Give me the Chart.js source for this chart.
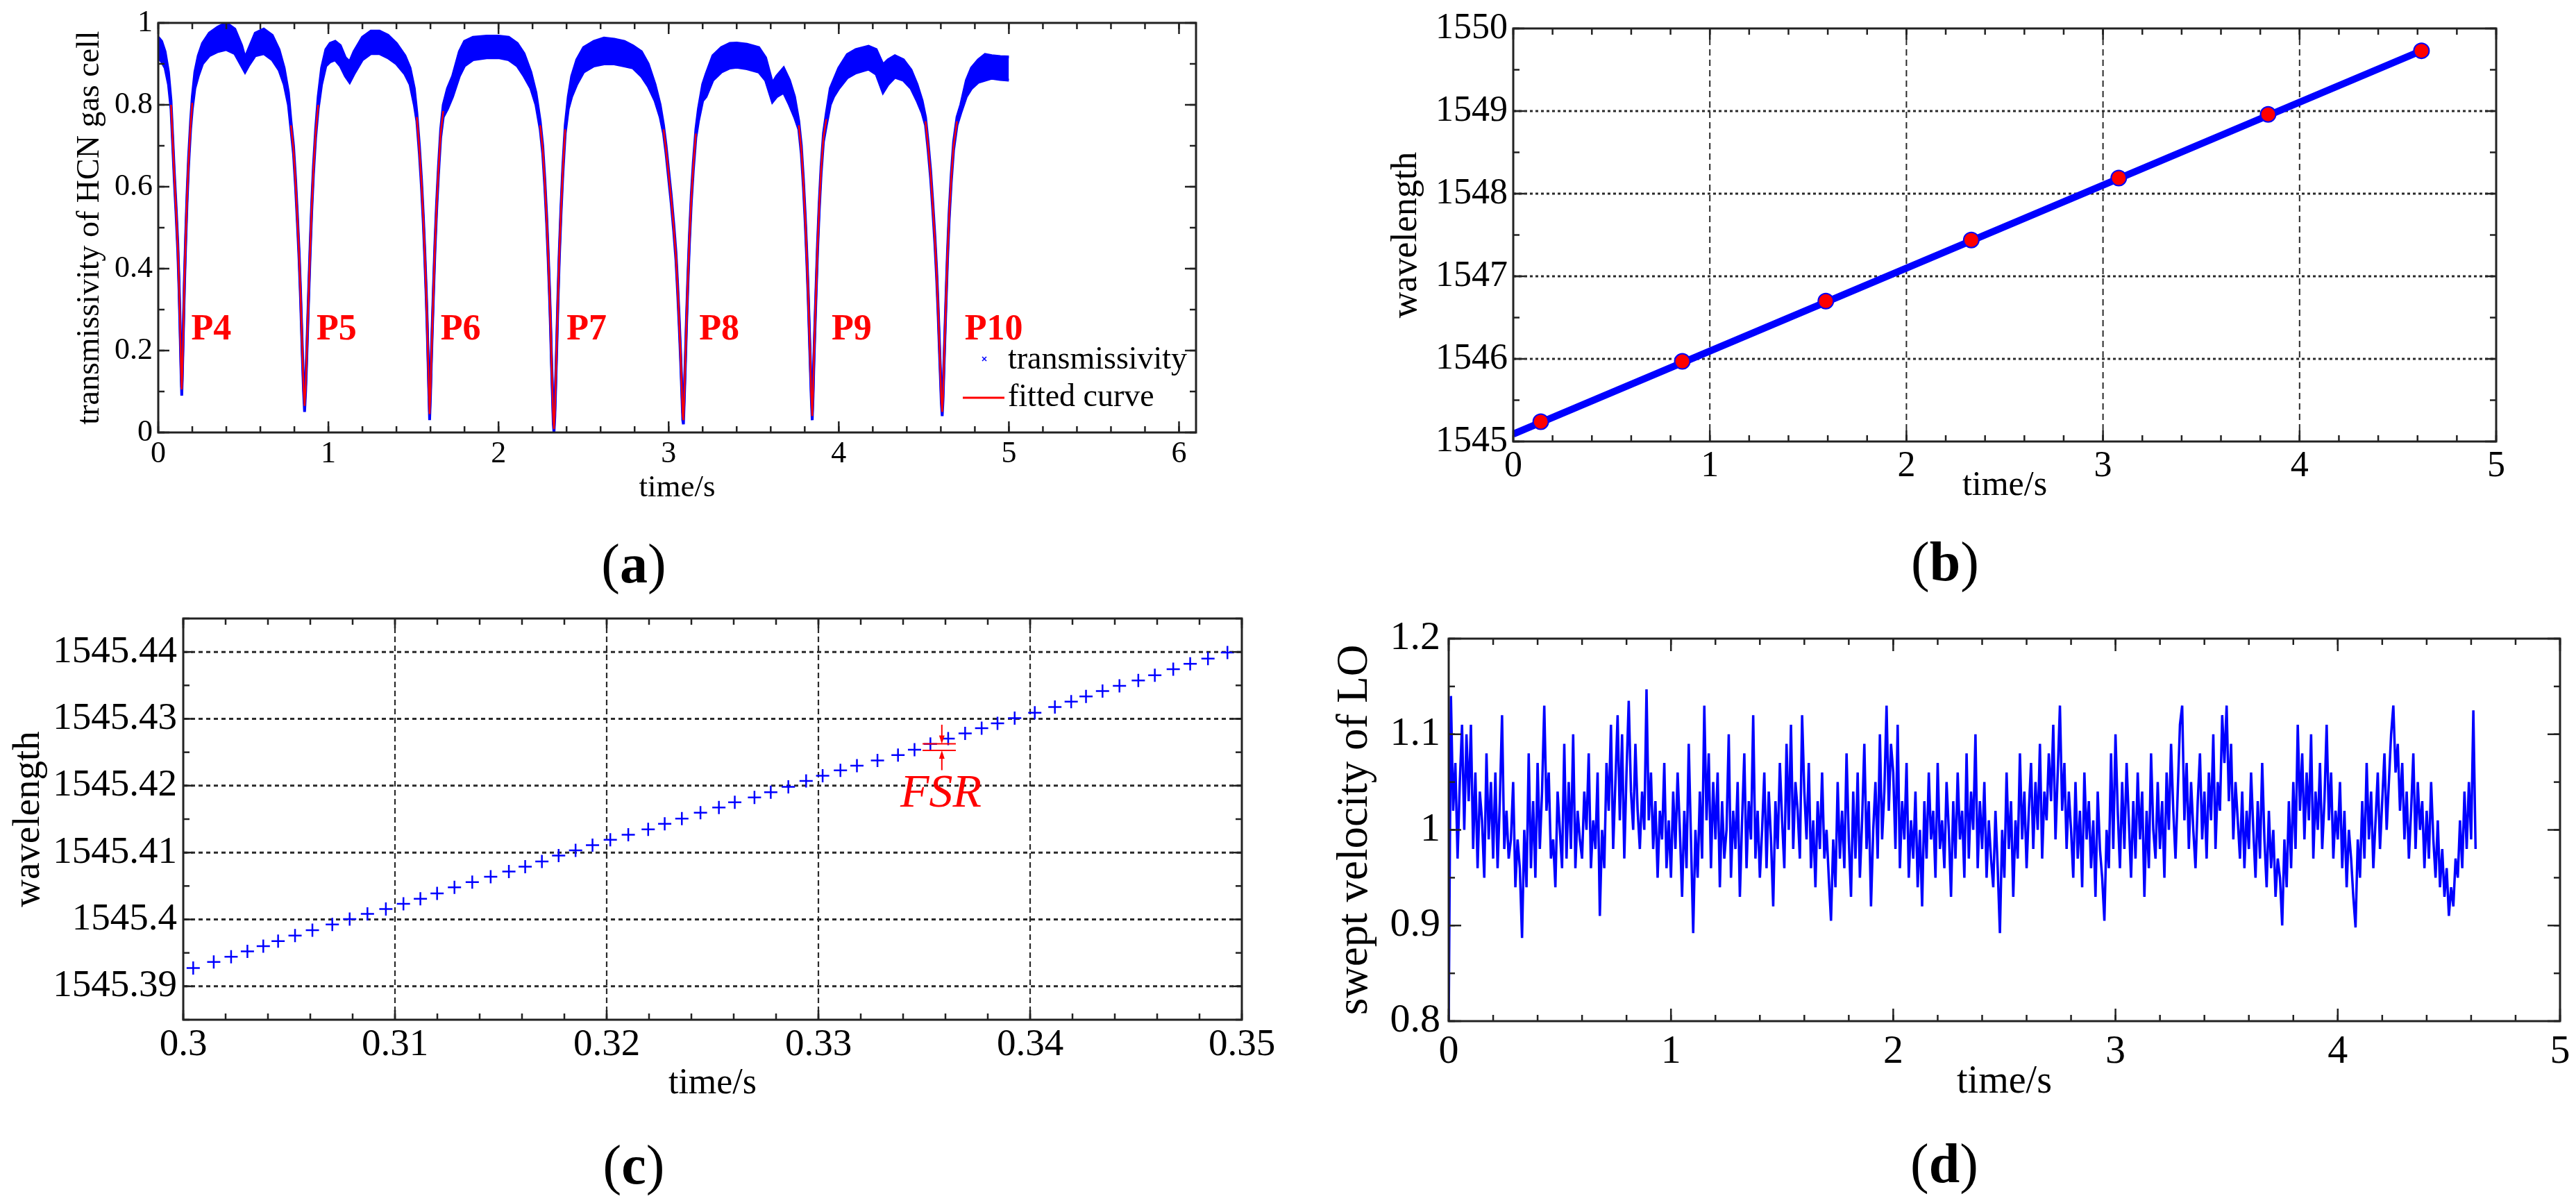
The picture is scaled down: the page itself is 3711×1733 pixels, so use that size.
<!DOCTYPE html>
<html lang="en">
<head>
<meta charset="UTF-8">
<title>HCN gas cell wavelength calibration</title>
<script src="https://cdn.jsdelivr.net/npm/chart.js"></script>
<style>
  body { margin: 0; background: #fff; width: 3711px; height: 1733px; position: relative; overflow: hidden; }
  canvas { position: absolute; }
  .plabel { position: absolute; font-family: 'Liberation Serif', 'Times New Roman', serif; font-size: 80px; line-height: 1; color: #000; transform: translate(-50%, -50%); white-space: nowrap; }
</style>
</head>
<body>
<canvas id="chartA" width="1860" height="870" style="left:0px;top:0px"></canvas>
<canvas id="chartB" width="1851" height="870" style="left:1860px;top:0px"></canvas>
<canvas id="chartC" width="1860" height="863" style="left:0px;top:870px"></canvas>
<canvas id="chartD" width="1851" height="863" style="left:1860px;top:870px"></canvas>
<div class="plabel" style="left:913px;top:812px">(<b>a</b>)</div>
<div class="plabel" style="left:2802px;top:809px">(<b>b</b>)</div>
<div class="plabel" style="left:913px;top:1678px">(<b>c</b>)</div>
<div class="plabel" style="left:2801px;top:1676px">(<b>d</b>)</div>

<script>
const SERIF = "'Liberation Serif', 'Times New Roman', serif";
const BLUE = '#0000ff';
const RED = '#ff0000';

// ---- (a) transmissivity of the HCN gas cell: upper / lower edge of the noisy band
const aTime = [0, 0.02, 0.04, 0.06, 0.075, 0.085, 0.095, 0.105, 0.115, 0.122, 0.127, 0.131, 0.135, 0.138, 0.141, 0.145, 0.149, 0.154, 0.161, 0.169, 0.178, 0.19, 0.2, 0.215, 0.235, 0.26,
  0.3, 0.35, 0.4, 0.45, 0.49, 0.51, 0.53, 0.57, 0.62, 0.67, 0.71, 0.74, 0.765, 0.78, 0.795, 0.807, 0.818, 0.828, 0.836, 0.842, 0.848, 0.854, 0.86, 0.866, 0.872, 0.878, 0.885, 0.893, 0.902, 0.912, 0.925, 0.94, 0.96, 0.985,
  1.01, 1.04, 1.07, 1.1, 1.125, 1.15, 1.2, 1.25, 1.3, 1.35, 1.4, 1.45, 1.48, 1.505, 1.52, 1.535, 1.547, 1.558, 1.567, 1.575, 1.581, 1.586, 1.591, 1.595, 1.6, 1.605, 1.611, 1.618, 1.626, 1.636, 1.647, 1.66, 1.675,
  1.7, 1.73, 1.77, 1.8, 1.85, 1.93, 2.0, 2.06, 2.11, 2.15, 2.19, 2.22, 2.245, 2.26, 2.272, 2.283, 2.292, 2.3, 2.306, 2.311, 2.317, 2.322, 2.326, 2.331, 2.336, 2.342, 2.349, 2.357, 2.367, 2.378, 2.392,
  2.41, 2.43, 2.46, 2.5, 2.56, 2.62, 2.68, 2.74, 2.79, 2.84, 2.88, 2.92, 2.95, 2.97, 2.985, 3.0, 3.015, 3.03, 3.043, 3.053, 3.062, 3.07, 3.077, 3.083, 3.087, 3.092, 3.098, 3.105, 3.113, 3.122, 3.133, 3.145, 3.16, 3.175,
  3.2, 3.22, 3.26, 3.31, 3.36, 3.4, 3.46, 3.53, 3.57, 3.61, 3.635, 3.676, 3.71, 3.74, 3.765, 3.78, 3.792, 3.803, 3.812, 3.82, 3.826, 3.832, 3.838, 3.844, 3.849, 3.854, 3.86, 3.867, 3.875, 3.885, 3.896, 3.91, 3.927,
  3.95, 3.97, 4.0, 4.05, 4.1, 4.175, 4.22, 4.26, 4.29, 4.33, 4.38, 4.425, 4.46, 4.49, 4.51, 4.525, 4.54, 4.553, 4.565, 4.575, 4.583, 4.59, 4.597, 4.603, 4.608, 4.613, 4.618, 4.624, 4.631, 4.639, 4.649, 4.661, 4.675, 4.695, 4.717, 4.75, 4.78, 4.82, 4.86, 4.9, 4.95, 5.0];
const aHigh = [0.965, 0.955, 0.93, 0.88, 0.81, 0.72, 0.63, 0.55, 0.46, 0.37, 0.29, 0.22, 0.15, 0.11, 0.15, 0.22, 0.29, 0.38, 0.48, 0.58, 0.67, 0.76, 0.82, 0.88, 0.92, 0.95,
  0.975, 0.99, 1.0, 0.985, 0.945, 0.915, 0.935, 0.975, 0.985, 0.97, 0.935, 0.89, 0.83, 0.76, 0.70, 0.62, 0.53, 0.44, 0.35, 0.27, 0.19, 0.12, 0.07, 0.12, 0.19, 0.27, 0.36, 0.46, 0.56, 0.65, 0.74, 0.82, 0.89, 0.935,
  0.95, 0.955, 0.945, 0.915, 0.905, 0.93, 0.965, 0.98, 0.98, 0.97, 0.95, 0.92, 0.89, 0.84, 0.78, 0.70, 0.62, 0.53, 0.44, 0.35, 0.27, 0.19, 0.11, 0.05, 0.11, 0.19, 0.27, 0.36, 0.46, 0.56, 0.65, 0.74, 0.80,
  0.84, 0.87, 0.93, 0.955, 0.965, 0.968, 0.968, 0.965, 0.95, 0.925, 0.88, 0.83, 0.76, 0.70, 0.62, 0.53, 0.44, 0.35, 0.27, 0.19, 0.11, 0.04, 0.015, 0.06, 0.13, 0.22, 0.33, 0.44, 0.55, 0.65, 0.75,
  0.82, 0.87, 0.91, 0.94, 0.955, 0.963, 0.96, 0.955, 0.944, 0.93, 0.90, 0.85, 0.80, 0.75, 0.70, 0.64, 0.58, 0.51, 0.44, 0.36, 0.28, 0.20, 0.12, 0.05, 0.04, 0.10, 0.18, 0.28, 0.38, 0.48, 0.58, 0.66, 0.74, 0.79,
  0.85, 0.875, 0.92, 0.94, 0.95, 0.951, 0.948, 0.94, 0.915, 0.853, 0.87, 0.89, 0.86, 0.82, 0.76, 0.70, 0.62, 0.53, 0.44, 0.35, 0.27, 0.19, 0.11, 0.05, 0.11, 0.19, 0.27, 0.36, 0.46, 0.56, 0.65, 0.73, 0.78,
  0.84, 0.86, 0.89, 0.923, 0.935, 0.943, 0.935, 0.898, 0.91, 0.92, 0.91, 0.885, 0.85, 0.81, 0.77, 0.71, 0.64, 0.56, 0.48, 0.40, 0.32, 0.24, 0.16, 0.09, 0.06, 0.10, 0.17, 0.25, 0.34, 0.44, 0.54, 0.63, 0.71, 0.77, 0.80, 0.86, 0.89, 0.91, 0.923, 0.92, 0.918, 0.917];
const aLow = [0.915, 0.905, 0.89, 0.85, 0.79, 0.70, 0.61, 0.53, 0.44, 0.35, 0.27, 0.20, 0.13, 0.09, 0.13, 0.20, 0.27, 0.36, 0.46, 0.56, 0.65, 0.74, 0.79, 0.84, 0.87, 0.90,
  0.92, 0.93, 0.935, 0.925, 0.895, 0.88, 0.895, 0.92, 0.925, 0.91, 0.885, 0.85, 0.80, 0.74, 0.68, 0.60, 0.51, 0.42, 0.33, 0.25, 0.17, 0.10, 0.05, 0.10, 0.17, 0.25, 0.34, 0.44, 0.54, 0.63, 0.72, 0.79, 0.85, 0.895,
  0.905, 0.91, 0.895, 0.87, 0.855, 0.875, 0.91, 0.925, 0.925, 0.915, 0.90, 0.875, 0.85, 0.80, 0.76, 0.68, 0.60, 0.51, 0.42, 0.33, 0.25, 0.17, 0.09, 0.03, 0.09, 0.17, 0.25, 0.34, 0.44, 0.54, 0.63, 0.72, 0.77,
  0.79, 0.82, 0.87, 0.895, 0.91, 0.915, 0.915, 0.91, 0.895, 0.87, 0.84, 0.80, 0.74, 0.68, 0.60, 0.51, 0.42, 0.33, 0.25, 0.17, 0.09, 0.02, 0, 0.04, 0.11, 0.20, 0.31, 0.42, 0.53, 0.63, 0.73,
  0.79, 0.82, 0.85, 0.88, 0.895, 0.90, 0.90, 0.895, 0.89, 0.87, 0.845, 0.81, 0.77, 0.73, 0.68, 0.62, 0.56, 0.49, 0.42, 0.34, 0.26, 0.18, 0.10, 0.03, 0.02, 0.08, 0.16, 0.26, 0.36, 0.46, 0.56, 0.64, 0.72, 0.76,
  0.81, 0.82, 0.86, 0.88, 0.89, 0.892, 0.888, 0.88, 0.86, 0.807, 0.82, 0.83, 0.80, 0.77, 0.74, 0.68, 0.60, 0.51, 0.42, 0.33, 0.25, 0.17, 0.09, 0.03, 0.09, 0.17, 0.25, 0.34, 0.44, 0.54, 0.63, 0.71, 0.75,
  0.80, 0.82, 0.84, 0.866, 0.878, 0.887, 0.875, 0.83, 0.85, 0.867, 0.86, 0.84, 0.81, 0.78, 0.75, 0.69, 0.62, 0.54, 0.46, 0.38, 0.30, 0.22, 0.14, 0.07, 0.04, 0.08, 0.15, 0.23, 0.32, 0.42, 0.52, 0.61, 0.69, 0.75, 0.78, 0.82, 0.84, 0.855, 0.86, 0.865, 0.862, 0.86];
// fitted curve around each absorption dip (null = break between dips)
const aFitTime = [0.075, 0.085, 0.095, 0.105, 0.115, 0.122, 0.127, 0.131, 0.135, 0.138, 0.141, 0.145, 0.149, 0.154, 0.161, 0.169, 0.178, 0.19, 0.2, 0.5,
  0.78, 0.795, 0.807, 0.818, 0.828, 0.836, 0.842, 0.848, 0.854, 0.86, 0.866, 0.872, 0.878, 0.885, 0.893, 0.902, 0.912, 0.925, 0.94, 1.2,
  1.52, 1.535, 1.547, 1.558, 1.567, 1.575, 1.581, 1.586, 1.591, 1.595, 1.6, 1.605, 1.611, 1.618, 1.626, 1.636, 1.647, 1.66, 1.675, 2.0,
  2.245, 2.26, 2.272, 2.283, 2.292, 2.3, 2.306, 2.311, 2.317, 2.322, 2.326, 2.331, 2.336, 2.342, 2.349, 2.357, 2.367, 2.378, 2.392, 2.7,
  2.97, 2.985, 3.0, 3.015, 3.03, 3.043, 3.053, 3.062, 3.07, 3.077, 3.083, 3.087, 3.092, 3.098, 3.105, 3.113, 3.122, 3.133, 3.145, 3.16, 3.5,
  3.765, 3.78, 3.792, 3.803, 3.812, 3.82, 3.826, 3.832, 3.838, 3.844, 3.849, 3.854, 3.86, 3.867, 3.875, 3.885, 3.896, 3.91, 3.927, 4.3,
  4.51, 4.525, 4.54, 4.553, 4.565, 4.575, 4.583, 4.59, 4.597, 4.603, 4.608, 4.613, 4.618, 4.624, 4.631, 4.639, 4.649, 4.661, 4.675, 4.695];
const aFitVal = [0.80, 0.71, 0.62, 0.54, 0.45, 0.36, 0.28, 0.21, 0.14, 0.105, 0.14, 0.21, 0.28, 0.37, 0.47, 0.57, 0.66, 0.75, 0.805, null,
  0.75, 0.69, 0.61, 0.52, 0.43, 0.34, 0.26, 0.18, 0.11, 0.065, 0.11, 0.18, 0.26, 0.35, 0.45, 0.55, 0.64, 0.73, 0.80, null,
  0.77, 0.69, 0.61, 0.52, 0.43, 0.34, 0.26, 0.18, 0.10, 0.045, 0.10, 0.18, 0.26, 0.35, 0.45, 0.55, 0.64, 0.73, 0.785, null,
  0.75, 0.69, 0.61, 0.52, 0.43, 0.34, 0.26, 0.18, 0.10, 0.03, 0.008, 0.05, 0.12, 0.21, 0.32, 0.43, 0.54, 0.64, 0.74, null,
  0.74, 0.69, 0.63, 0.57, 0.50, 0.43, 0.35, 0.27, 0.19, 0.11, 0.04, 0.03, 0.09, 0.17, 0.27, 0.37, 0.47, 0.57, 0.65, 0.73, null,
  0.75, 0.69, 0.61, 0.52, 0.43, 0.34, 0.26, 0.18, 0.10, 0.04, 0.10, 0.18, 0.26, 0.35, 0.45, 0.55, 0.64, 0.72, 0.765, null,
  0.76, 0.70, 0.63, 0.55, 0.47, 0.39, 0.31, 0.23, 0.15, 0.08, 0.05, 0.09, 0.16, 0.24, 0.33, 0.43, 0.53, 0.62, 0.70, 0.76];
const aPeakNames = ['P4', 'P5', 'P6', 'P7', 'P8', 'P9', 'P10'];
const aPeakTime = [0.194, 0.93, 1.66, 2.40, 3.18, 3.958, 4.74];
const aPeakLevel = 0.25;
const aXTicks = [0, 1, 2, 3, 4, 5, 6];
const aYTicks = [0, 0.2, 0.4, 0.6, 0.8, 1];

// ---- (b) wavelength of the absorption peaks and the fitted line
const bPeakTime = [0.14, 0.86, 1.59, 2.33, 3.08, 3.84, 4.62];
const bPeakWave = [1545.24, 1545.97, 1546.70, 1547.44, 1548.19, 1548.96, 1549.73];
const bLineTime = [0, 4.62];
const bLineWave = [1545.09, 1549.73];
const bXTicks = [0, 1, 2, 3, 4, 5];
const bYTicks = [1545, 1546, 1547, 1548, 1549, 1550];

// ---- (c) zoom of the wavelength sweep (one sample per FSR)
const cTime = [0.30047, 0.30144, 0.30226, 0.30303, 0.30378, 0.30448, 0.30528, 0.30610, 0.30704, 0.30786,
  0.30870, 0.30957, 0.31040, 0.31120, 0.31199, 0.31281, 0.31365, 0.31452, 0.31538, 0.31615,
  0.31694, 0.31773, 0.31853, 0.31933, 0.32017, 0.32102, 0.32196, 0.32274, 0.32355, 0.32443,
  0.32530, 0.32605, 0.32698, 0.32775, 0.32858, 0.32942, 0.33020, 0.33104, 0.33182, 0.33279,
  0.33376, 0.33454, 0.33529, 0.33613, 0.33693, 0.33771, 0.33846, 0.33927, 0.34022, 0.34117,
  0.34194, 0.34264, 0.34342, 0.34422, 0.34511, 0.34589, 0.34676, 0.34756, 0.34840, 0.34932];
const cWave = [1545.39273, 1545.39364, 1545.39443, 1545.39522, 1545.39601, 1545.39676, 1545.39759, 1545.39839, 1545.39926, 1545.40005,
  1545.40084, 1545.40155, 1545.40234, 1545.40309, 1545.40388, 1545.40479, 1545.40558, 1545.40638, 1545.40717, 1545.40788,
  1545.40867, 1545.40954, 1545.41033, 1545.41112, 1545.41191, 1545.41267, 1545.41346, 1545.41429, 1545.41508, 1545.41595,
  1545.41674, 1545.41753, 1545.41824, 1545.41903, 1545.41983, 1545.42070, 1545.42149, 1545.42228, 1545.42299, 1545.42378,
  1545.42458, 1545.42537, 1545.42623, 1545.42703, 1545.42782, 1545.42861, 1545.42932, 1545.43011, 1545.43090, 1545.43177,
  1545.43256, 1545.43335, 1545.43415, 1545.43494, 1545.43573, 1545.43652, 1545.43743, 1545.43822, 1545.43901, 1545.43992];
const cXTicks = [0.3, 0.31, 0.32, 0.33, 0.34, 0.35];
const cYTicks = [1545.39, 1545.4, 1545.41, 1545.42, 1545.43, 1545.44];
// FSR marker, in data units
const fsrFrom = 0.33492, fsrTo = 0.33649, fsrArrowAt = 0.33583;
const fsrUpper = 1545.42627, fsrLower = 1545.42528;
const fsrArrowTop = 1545.42912, fsrArrowBottom = 1545.42232;
const fsrTextAt = [0.33579, 1545.41876];

// ---- (d) swept velocity of the LO, one value every dSampleStep seconds
const dSampleStep = 0.01;
const dVelocity = [
  0.80, 1.14, 1.02, 1.07, 0.97, 1.05, 1.11, 1.00, 1.10, 1.03,
  1.11, 0.98, 1.06, 0.96, 1.04, 1.01, 0.95, 1.08, 0.99, 1.05,
  0.97, 1.06, 0.96, 1.03, 1.12, 0.98, 1.02, 0.97, 0.99, 1.05,
  0.94, 0.99, 0.96, 0.887, 1.00, 0.94, 1.08, 0.96, 1.03, 0.95,
  1.07, 0.98, 1.04, 1.13, 1.02, 1.06, 0.97, 0.99, 0.94, 1.04,
  1.00, 0.96, 1.09, 0.97, 1.05, 0.98, 1.10, 0.96, 1.02, 0.99,
  0.97, 1.04, 1.00, 1.08, 0.96, 1.01, 0.98, 1.06, 0.91, 1.00,
  0.96, 1.07, 1.02, 1.11, 0.98, 1.05, 1.12, 1.01, 1.10, 0.97,
  1.06, 1.135, 1.04, 1.00, 1.09, 1.02, 0.98, 1.04, 1.00, 1.147,
  1.01, 1.06, 0.98, 1.03, 0.95, 1.02, 0.99, 1.07, 0.96, 1.01,
  0.95, 1.04, 0.98, 1.06, 1.00, 0.93, 1.02, 0.96, 1.09, 0.99,
  0.892, 1.00, 0.95, 1.04, 0.97, 1.13, 1.01, 1.08, 0.96, 1.05,
  0.99, 1.06, 0.94, 1.03, 0.97, 1.00, 1.10, 0.95, 1.02, 0.98,
  1.05, 0.93, 1.01, 1.08, 0.96, 1.03, 0.99, 1.12, 0.97, 1.02,
  0.95, 1.00, 1.06, 0.96, 1.04, 0.99, 0.92, 1.03, 0.98, 1.07,
  1.01, 0.96, 1.09, 1.00, 1.11, 0.98, 1.05, 1.02, 0.97, 1.12,
  1.04, 0.99, 1.07, 0.96, 1.01, 0.94, 1.03, 0.98, 1.06, 0.97,
  1.00, 0.95, 0.905, 0.99, 0.94, 1.05, 0.97, 1.02, 0.96, 1.08,
  0.99, 0.93, 1.04, 0.97, 1.06, 0.95, 1.01, 1.09, 0.98, 1.03,
  0.92, 1.00, 1.05, 0.97, 1.10, 0.99, 1.04, 1.13, 1.02, 1.09,
  1.06, 0.98, 1.11, 0.96, 1.03, 0.99, 1.07, 0.95, 1.01, 0.97,
  1.04, 0.94, 1.00, 0.92, 1.03, 0.97, 1.06, 0.99, 1.02, 0.95,
  1.07, 0.98, 1.01, 0.96, 1.05, 1.00, 0.93, 1.03, 0.97, 1.06,
  0.99, 1.02, 0.95, 1.08, 0.97, 1.04, 1.00, 1.10, 0.96, 1.03,
  0.98, 1.05, 0.95, 1.01, 0.97, 0.94, 1.02, 0.96, 0.892, 1.00,
  0.95, 1.06, 0.98, 1.03, 0.93, 1.01, 0.97, 1.08, 0.99, 1.04,
  0.96, 1.02, 1.07, 0.98, 1.05, 1.00, 1.09, 0.97, 1.04, 1.01,
  1.08, 1.03, 1.11, 0.99, 1.06, 1.13, 1.02, 1.07, 0.98, 1.04,
  1.00, 0.95, 1.05, 0.97, 1.02, 0.94, 1.06, 0.99, 1.03, 0.96,
  1.01, 0.93, 1.04, 0.98, 0.95, 0.905, 1.00, 0.96, 1.08, 0.98,
  1.10, 1.02, 0.96, 1.05, 0.98, 1.07, 1.01, 0.95, 1.03, 0.97,
  1.06, 0.99, 1.04, 0.93, 1.02, 0.96, 1.08, 1.00, 0.97, 1.05,
  0.98, 1.03, 0.95, 1.06, 1.00, 1.09, 1.02, 0.97, 1.04, 1.11,
  1.13, 1.01, 1.07, 0.98, 1.05, 1.00, 0.96, 1.03, 1.08, 0.99,
  1.04, 0.97, 1.06, 1.01, 1.10, 0.98, 1.05, 1.02, 1.12, 1.07,
  1.13, 1.03, 1.09, 0.99, 1.05, 1.01, 0.97, 1.04, 0.96, 1.02,
  0.98, 1.06, 1.00, 0.95, 1.03, 0.97, 1.07, 0.99, 0.94, 1.02,
  0.96, 1.00, 0.93, 0.97, 0.95, 0.90, 0.99, 0.94, 1.03, 0.96,
  1.05, 0.98, 1.11, 1.02, 1.08, 0.99, 1.06, 1.01, 1.10, 0.97,
  1.04, 1.00, 1.07, 0.98, 1.03, 1.11, 1.01, 1.06, 0.97, 1.02,
  0.99, 1.05, 0.96, 1.02, 0.94, 1.00, 0.97, 0.93, 0.898, 0.99,
  0.95, 1.03, 0.97, 1.07, 0.99, 1.04, 0.96, 1.01, 1.06, 0.98,
  1.03, 1.08, 1.00, 1.05, 1.10, 1.13, 1.06, 1.09, 1.02, 1.07,
  0.99, 1.04, 0.97, 1.02, 1.08, 0.98, 1.05, 1.00, 1.03, 0.96,
  1.02, 0.97, 1.05, 0.99, 0.95, 1.01, 0.94, 0.98, 0.93, 0.96,
  0.91, 0.94, 0.92, 0.97, 0.95, 1.01, 0.96, 1.04, 0.98, 1.05,
  0.99, 1.125, 0.98];
const dXTicks = [0, 1, 2, 3, 4, 5];
const dYTicks = [0.8, 0.9, 1, 1.1, 1.2];

// frame, inward ticks on all four sides and optional dashed grid
function makeDeco(st) {
  return {
    id: 'deco',
    beforeDatasetsDraw(chart) {
      if (!st.grid) return;
      const { ctx, chartArea: a, scales: { x, y } } = chart;
      ctx.save();
      ctx.strokeStyle = '#2a2a2a';
      ctx.lineWidth = st.grid.vWidth;
      ctx.setLineDash(st.grid.vDash);
      x.ticks.forEach(t => {
        const px = x.getPixelForValue(t.value);
        if (px < a.left + 4 || px > a.right - 4) return;
        ctx.beginPath(); ctx.moveTo(px, a.top); ctx.lineTo(px, a.bottom); ctx.stroke();
      });
      ctx.lineWidth = st.grid.hWidth;
      ctx.setLineDash(st.grid.hDash);
      y.ticks.forEach(t => {
        const py = y.getPixelForValue(t.value);
        if (py < a.top + 4 || py > a.bottom - 4) return;
        ctx.beginPath(); ctx.moveTo(a.left, py); ctx.lineTo(a.right, py); ctx.stroke();
      });
      ctx.restore();
    },
    afterDatasetsDraw(chart) {
      const { ctx, chartArea: a, scales: { x, y } } = chart;
      const steps = (s, step) => {
        const out = [];
        for (let k = Math.ceil(s.min / step - 1e-6); k * step <= s.max + 1e-9; k++) out.push(k * step);
        return out;
      };
      const seg = (x0, y0, x1, y1) => { ctx.beginPath(); ctx.moveTo(x0, y0); ctx.lineTo(x1, y1); ctx.stroke(); };
      const xt = (v, len) => { const px = x.getPixelForValue(v); seg(px, a.bottom, px, a.bottom - len); seg(px, a.top, px, a.top + len); };
      const yt = (v, len) => { const py = y.getPixelForValue(v); seg(a.left, py, a.left + len, py); seg(a.right, py, a.right - len, py); };
      ctx.save();
      ctx.strokeStyle = '#222';
      ctx.lineWidth = 2.5;
      steps(x, st.xMinor).forEach(v => xt(v, st.minorLen));
      steps(y, st.yMinor).forEach(v => yt(v, st.minorLen));
      x.ticks.forEach(t => xt(t.value, st.majorLen));
      y.ticks.forEach(t => yt(t.value, st.majorLen));
      ctx.lineWidth = 3;
      ctx.strokeRect(a.left, a.top, a.right - a.left, a.bottom - a.top);
      ctx.restore();
    }
  };
}

function xAxis(min, max, ticks, o) {
  return {
    type: 'linear', min: min, max: max,
    grid: { display: false, drawTicks: false },
    border: { display: false },
    afterBuildTicks: s => { s.ticks = ticks.map(v => ({ value: v })); },
    afterFit: s => { s.height = o.height; s.paddingLeft = 0; s.paddingRight = 0; },
    ticks: { autoSkip: false, maxRotation: 0, minRotation: 0, padding: o.pad, color: '#000',
      font: { family: SERIF, size: o.size }, callback: v => String(v) },
    title: { display: true, text: 'time/s', color: '#000', font: { family: SERIF, size: o.titleSize },
      padding: { top: 0, bottom: o.titlePad } }
  };
}

function yAxis(min, max, ticks, o) {
  return {
    min: min, max: max,
    grid: { display: false, drawTicks: false },
    border: { display: false },
    afterBuildTicks: s => { s.ticks = ticks.map(v => ({ value: v })); },
    afterFit: s => { s.width = o.width; s.paddingTop = 0; s.paddingBottom = 0; },
    ticks: { autoSkip: false, padding: o.pad, color: '#000', font: { family: SERIF, size: o.size },
      callback: v => String(v) },
    title: { display: true, text: o.title, color: '#000', font: { family: SERIF, size: o.titleSize },
      padding: { top: o.titlePad, bottom: 0 } }
  };
}

function baseOptions(pad, scales) {
  return {
    responsive: false, animation: false, devicePixelRatio: 1,
    layout: { padding: pad },
    plugins: { legend: { display: false }, tooltip: { enabled: false } },
    events: [],
    scales: scales
  };
}

// ---------- (a)
const aNotes = {
  id: 'aNotes',
  afterDatasetsDraw(chart) {
    const { ctx, chartArea: a, scales: { x, y } } = chart;
    ctx.save();
    ctx.fillStyle = RED;
    ctx.font = 'bold 52px ' + SERIF;
    ctx.textBaseline = 'middle';
    ctx.textAlign = 'left';
    aPeakNames.forEach((n, i) => ctx.fillText(n, x.getPixelForValue(aPeakTime[i]), y.getPixelForValue(aPeakLevel)));
    // legend
    ctx.strokeStyle = BLUE; ctx.lineWidth = 1.5;
    const mx = a.right - 305, my = a.bottom - 106;
    ctx.beginPath(); ctx.moveTo(mx - 3, my - 3); ctx.lineTo(mx + 3, my + 3); ctx.moveTo(mx - 3, my + 3); ctx.lineTo(mx + 3, my - 3); ctx.stroke();
    ctx.strokeStyle = RED; ctx.lineWidth = 3;
    ctx.beginPath(); ctx.moveTo(a.right - 336, a.bottom - 50); ctx.lineTo(a.right - 276, a.bottom - 50); ctx.stroke();
    ctx.fillStyle = '#000';
    ctx.font = '46px ' + SERIF;
    ctx.fillText('transmissivity', a.right - 271, a.bottom - 104);
    ctx.fillText('fitted curve', a.right - 271, a.bottom - 50);
    ctx.restore();
  }
};

new Chart(document.getElementById('chartA'), {
  type: 'line',
  data: {
    datasets: [
      { data: aTime.map((t, i) => ({ x: t, y: aHigh[i] })), order: 2, borderColor: BLUE, borderWidth: 4, pointRadius: 0, fill: false, tension: 0 },
      { data: aTime.map((t, i) => ({ x: t, y: aLow[i] })), order: 2, borderColor: BLUE, borderWidth: 4, pointRadius: 0, fill: '-1', backgroundColor: BLUE, tension: 0 },
      { data: aFitTime.map((t, i) => ({ x: t, y: aFitVal[i] })), order: 1, borderColor: RED, borderWidth: 2.5, pointRadius: 0, fill: false, tension: 0, spanGaps: false }
    ]
  },
  options: baseOptions({ left: 0, top: 33, right: 137, bottom: 0 }, {
    x: xAxis(0, 6.1, aXTicks, { height: 247, pad: 5, size: 44, titleSize: 45, titlePad: 140 }),
    y: yAxis(0, 1, aYTicks, { width: 228, pad: 8, size: 44, title: 'transmissivity of HCN gas cell', titleSize: 46, titlePad: 102 })
  }),
  plugins: [makeDeco({ xMinor: 0.2, yMinor: 0.1, majorLen: 16, minorLen: 9 }), aNotes]
});

// ---------- (b)
new Chart(document.getElementById('chartB'), {
  type: 'line',
  data: {
    datasets: [
      { data: bLineTime.map((t, i) => ({ x: t, y: bLineWave[i] })), order: 2, borderColor: BLUE, borderWidth: 10, pointRadius: 0, fill: false },
      { data: bPeakTime.map((t, i) => ({ x: t, y: bPeakWave[i] })), order: 1, showLine: false, pointRadius: 11,
        pointBackgroundColor: RED, pointBorderColor: BLUE, pointBorderWidth: 2 }
    ]
  },
  options: baseOptions({ left: 0, top: 41, right: 115, bottom: 0 }, {
    x: xAxis(0, 5, bXTicks, { height: 234, pad: 5, size: 52, titleSize: 50, titlePad: 140 }),
    y: yAxis(1545, 1550, bYTicks, { width: 320, pad: 8, size: 52, title: 'wavelength', titleSize: 52, titlePad: 135 })
  }),
  plugins: [makeDeco({ xMinor: 0.2, yMinor: 0.5, majorLen: 16, minorLen: 9,
    grid: { vWidth: 2, vDash: [9, 6], hWidth: 3, hDash: [4, 4] } })]
});

// ---------- (c)
const cNotes = {
  id: 'cNotes',
  afterDatasetsDraw(chart) {
    const { ctx, scales: { x, y } } = chart;
    const x0 = x.getPixelForValue(fsrFrom), x1 = x.getPixelForValue(fsrTo), xa = x.getPixelForValue(fsrArrowAt);
    const yu = y.getPixelForValue(fsrUpper), yl = y.getPixelForValue(fsrLower);
    const yt = y.getPixelForValue(fsrArrowTop), yb = y.getPixelForValue(fsrArrowBottom);
    ctx.save();
    ctx.strokeStyle = RED; ctx.fillStyle = RED; ctx.lineWidth = 2;
    ctx.beginPath();
    ctx.moveTo(x0, yu); ctx.lineTo(x1, yu);
    ctx.moveTo(x0, yl); ctx.lineTo(x1, yl);
    ctx.moveTo(xa, yt); ctx.lineTo(xa, yu - 10);
    ctx.moveTo(xa, yb); ctx.lineTo(xa, yl + 10);
    ctx.stroke();
    ctx.beginPath(); ctx.moveTo(xa, yu); ctx.lineTo(xa - 4, yu - 12); ctx.lineTo(xa + 4, yu - 12); ctx.closePath(); ctx.fill();
    ctx.beginPath(); ctx.moveTo(xa, yl); ctx.lineTo(xa - 4, yl + 12); ctx.lineTo(xa + 4, yl + 12); ctx.closePath(); ctx.fill();
    ctx.font = 'italic 68px ' + SERIF;
    ctx.textAlign = 'center'; ctx.textBaseline = 'middle';
    ctx.fillText('FSR', x.getPixelForValue(fsrTextAt[0]), y.getPixelForValue(fsrTextAt[1]));
    ctx.restore();
  }
};

new Chart(document.getElementById('chartC'), {
  type: 'line',
  data: {
    datasets: [
      { data: cTime.map((t, i) => ({ x: t, y: cWave[i] })), showLine: false, pointStyle: 'cross', pointRadius: 9.5,
        pointBorderColor: BLUE, pointBorderWidth: 2.5 }
    ]
  },
  options: baseOptions({ left: 0, top: 21, right: 71, bottom: 0 }, {
    x: xAxis(0.3, 0.35, cXTicks, { height: 264, pad: 4, size: 55, titleSize: 52, titlePad: 140 }),
    y: yAxis(1545.385, 1545.445, cYTicks, { width: 264, pad: 9, size: 55, title: 'wavelength', titleSize: 55, titlePad: 9 })
  }),
  plugins: [makeDeco({ xMinor: 0.002, yMinor: 0.005, majorLen: 14, minorLen: 9,
    grid: { vWidth: 2.2, vDash: [8, 5], hWidth: 3, hDash: [6, 5] } }), cNotes]
});

// ---------- (d)
new Chart(document.getElementById('chartD'), {
  type: 'line',
  data: {
    datasets: [
      { data: dVelocity.map((v, i) => ({ x: i * dSampleStep, y: v })), borderColor: BLUE, borderWidth: 3.5, pointRadius: 0, fill: false, tension: 0 }
    ]
  },
  options: baseOptions({ left: 0, top: 50, right: 23, bottom: 0 }, {
    x: xAxis(0, 5, dXTicks, { height: 262, pad: 10, size: 58, titleSize: 56, titlePad: 140 }),
    y: yAxis(0.8, 1.2, dYTicks, { width: 227, pad: 12, size: 58, title: 'swept velocity of LO', titleSize: 63, titlePad: 55 })
  }),
  plugins: [makeDeco({ xMinor: 0.2, yMinor: 0.05, majorLen: 18, minorLen: 9 })]
});
</script>
</body>
</html>
